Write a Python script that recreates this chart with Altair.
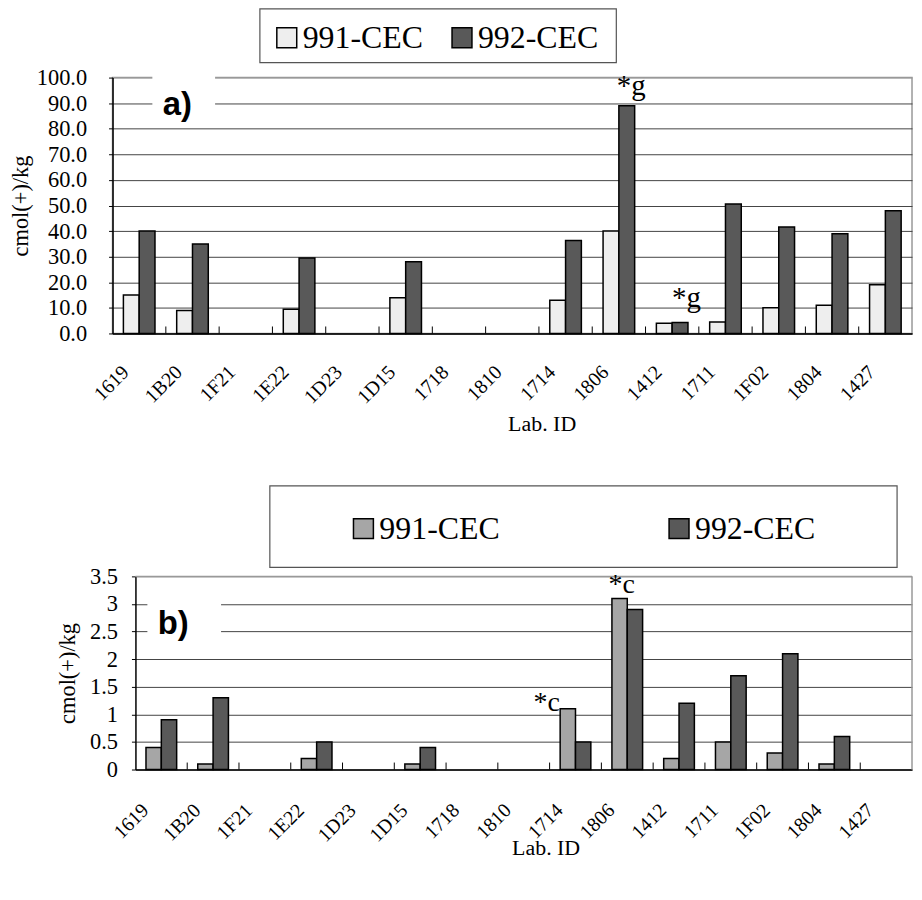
import altair as alt
import pandas as pd

labs = ["1619", "1B20", "1F21", "1E22", "1D23", "1D15", "1718", "1810",
        "1714", "1806", "1412", "1711", "1F02", "1804", "1427"]
series = ["991-CEC", "992-CEC"]

# panel a) values (cmol(+)/kg); None = no bar
a_991 = [15.0, 9.0, None, 9.5, None, 14.0, None, None, 13.0, 40.0, 4.0, 4.5, 10.0, 11.0, 19.0]
a_992 = [40.0, 35.0, None, 29.5, None, 28.0, None, None, 36.3, 89.0, 4.3, 50.6, 41.6, 39.0, 48.0]

# panel b) values
b_991 = [0.4, 0.1, None, 0.2, None, 0.1, None, None, 1.1, 3.1, 0.2, 0.5, 0.3, 0.1, None]
b_992 = [0.9, 1.3, None, 0.5, None, 0.4, None, None, 0.5, 2.9, 1.2, 1.7, 2.1, 0.6, None]

a_ticks = [0, 10, 20, 30, 40, 50, 60, 70, 80, 90, 100]
b_ticks = [0, 0.5, 1, 1.5, 2, 2.5, 3, 3.5]

# annotations (lab, series, text)
a_ann_lab = ["1806", "1412"]
a_ann_series = ["992-CEC", "992-CEC"]
a_ann_text = ["*g", "*g"]
b_ann_lab = ["1714", "1806"]
b_ann_series = ["991-CEC", "991-CEC"]
b_ann_text = ["*c", "*c"]

SERIF = "Liberation Serif"
SANS = "Liberation Sans"


def long(v1, v2):
    rows = []
    for lab, x1, x2 in zip(labs, v1, v2):
        if x1 is not None:
            rows.append({"lab": lab, "series": series[0], "value": x1})
        if x2 is not None:
            rows.append({"lab": lab, "series": series[1], "value": x2})
    return pd.DataFrame(rows)


def ann_df(bars, lab, ser, txt):
    rows = []
    for l, s, t in zip(lab, ser, txt):
        v = bars[(bars["lab"] == l) & (bars["series"] == s)]["value"].iloc[0]
        rows.append({"lab": l, "series": s, "text": t, "value": v})
    return pd.DataFrame(rows)


def panel(name, df, W, H, x0, ymax, yvals, yfmt, colors, ylab_pad, ytitle_pad,
          lab_shift, lab_y, title_x, title_y,
          leg_x, leg_y, leg_colpad, box, tag, tag_box, tag_pos,
          ann, ann_styles, ann_size, manual_border):
    xscale = alt.Scale(domain=labs, range=[x0, W], paddingInner=0, paddingOuter=0)
    xaxis = alt.Axis(title="Lab. ID", labels=False, ticks=False,
                     domainColor="black", domainWidth=1.5, grid=False,
                     titleFont=SERIF, titleFontSize=22, titleFontWeight="normal",
                     titleColor="black", titleX=title_x, titleY=title_y,
                     titleBaseline="top", titleAlign="center")
    yaxis = alt.Axis(values=yvals, format=yfmt, grid=True,
                     gridColor={"condition": {"test": f"datum.value >= {ymax}", "value": "#999"},
                                "value": "#444"},
                     gridWidth=1, domainColor="black", domainWidth=1.5,
                     tickColor="black", tickSize=4, labelFont=SERIF, labelFontSize=22.5,
                     labelColor="black", labelPadding=ylab_pad, title="cmol(+)/kg",
                     titleFont=SERIF, titleFontSize=22.5, titleFontWeight="normal",
                     titleColor="black", titlePadding=ytitle_pad, offset=-x0)
    X = alt.X("lab:N", scale=xscale, axis=xaxis, sort=labs)
    XO = alt.XOffset("series:N", scale=alt.Scale(domain=series, paddingInner=0,
                                                  paddingOuter=0.6875))
    Y = alt.Y("value:Q", scale=alt.Scale(domain=[0, ymax], nice=False), axis=yaxis)

    bars = alt.Chart(df.assign(panel=name)).mark_bar(stroke="black", strokeWidth=1.5).encode(
        x=X, xOffset=XO, y=Y,
        color=alt.Color("series:N",
                        scale=alt.Scale(domain=series, range=colors),
                        legend=alt.Legend(title=None, orient="none", legendX=leg_x,
                                          legendY=leg_y, direction="horizontal",
                                          symbolType="square", symbolSize=400,
                                          symbolStrokeColor="black", symbolStrokeWidth=1.5,
                                          symbolOpacity=1,
                                          labelFont=SERIF, labelFontSize=32,
                                          labelColor="black", labelOffset=0,
                                          columnPadding=leg_colpad, padding=0,
                                          labelLimit=0)))

    lab_df = pd.DataFrame({"lab": labs, "panel": name})
    tick_rules = alt.Chart(lab_df.iloc[1:]).mark_rule(color="black", strokeWidth=1).encode(
        x=alt.X("lab:N", scale=xscale, axis=xaxis, sort=labs, bandPosition=0),
        y=alt.value(H - 7), y2=alt.value(H))
    # category labels, anchored at the first bar slot of each category
    lab_txt = lab_df.assign(series=series[0])
    d = 0.7071 * lab_shift
    tick_labels = alt.Chart(lab_txt).mark_text(
        angle=315, align="right", baseline="middle", font=SERIF, fontSize=20,
        color="black", dx=d, dy=d).encode(
        x=X, xOffset=XO, y=alt.value(H + lab_y), text="lab:N")

    one = pd.DataFrame({"k": [0], "panel": [name]})
    legend_box = alt.Chart(one).mark_rect(fill="white", stroke="#555",
                                          strokeWidth=1.2).encode(
        x=alt.value(box[0]), x2=alt.value(box[1]),
        y=alt.value(box[2]), y2=alt.value(box[3]))
    tag_bg = alt.Chart(one).mark_rect(fill="white", strokeWidth=0).encode(
        x=alt.value(tag_box[0]), x2=alt.value(tag_box[1]),
        y=alt.value(tag_box[2]), y2=alt.value(tag_box[3]))
    tag_txt = alt.Chart(one).mark_text(text=tag, font=SANS, fontSize=33,
                                       fontWeight="bold", align="center",
                                       baseline="alphabetic", color="black").encode(
        x=alt.value(tag_pos[0]), y=alt.value(tag_pos[1]))

    layers = [bars, tick_rules, tick_labels]
    if manual_border:
        layers.append(alt.Chart(one).mark_rule(color="#999", strokeWidth=1.5).encode(
            x=alt.value(x0), x2=alt.value(W), y=alt.value(0)))
        layers.append(alt.Chart(one).mark_rule(color="#999", strokeWidth=1.5).encode(
            x=alt.value(W), y=alt.value(0), y2=alt.value(H)))
    layers += [tag_bg, tag_txt, legend_box]
    for i, st in enumerate(ann_styles):
        layers.append(
            alt.Chart(ann.iloc[[i]].assign(panel=name)).mark_text(
                font=SERIF, fontSize=ann_size, color="black",
                baseline="alphabetic", **st).encode(
                x=X, xOffset=XO, y=Y, text="text:N"))
    lay = alt.layer(*layers).properties(width=W, height=H)
    if manual_border:
        lay = lay.properties(view=alt.ViewBackground(stroke="transparent"))
    return lay


da = long(a_991, a_992)
db = long(b_991, b_992)
ann_a = ann_df(da, a_ann_lab, a_ann_series, a_ann_text)
ann_b = ann_df(db, b_ann_lab, b_ann_series, b_ann_text)

chart_a = panel("a", da, 803, 257, 0, 100, a_ticks, ".1f", ["#EEEEEE", "#595959"],
                ylab_pad=22, ytitle_pad=4, lab_shift=-5.5, lab_y=36,
                title_x=431, title_y=80, leg_x=159, leg_y=-56, leg_colpad=23,
                box=[148, 506, -69, -15], tag="a)", tag_box=[40, 103, -2, 47],
                tag_pos=[65, 38], ann=ann_a,
                ann_styles=[dict(dx=-10, dy=-11, align="left"),
                            dict(dx=-8, dy=-16, align="left")],
                ann_size=29, manual_border=False)

chart_b = panel("b", db, 803, 194, 23, 3.5, b_ticks, "~g", ["#A6A6A6", "#595959"],
                ylab_pad=14, ytitle_pad=10, lab_shift=-8, lab_y=38,
                title_x=435, title_y=68, leg_x=236, leg_y=-64, leg_colpad=164,
                box=[158, 788, -91, -9], tag="b)", tag_box=[35, 109, 18, 76],
                tag_pos=[61, 58], ann=ann_b,
                ann_styles=[dict(dx=-8, dy=2, align="right"),
                            dict(dx=2, dy=-5, align="center")],
                ann_size=28, manual_border=True)

chart = alt.vconcat(chart_a, chart_b, spacing=49).resolve_scale(
    color="independent", x="independent", y="independent", xOffset="independent"
).configure_view(stroke="#999", strokeWidth=1.5).properties(
    padding={"left": 0, "top": -3, "right": 0, "bottom": 4},
    background="white")

chart.save("out.html", embed_options={"renderer": "svg", "actions": False})
